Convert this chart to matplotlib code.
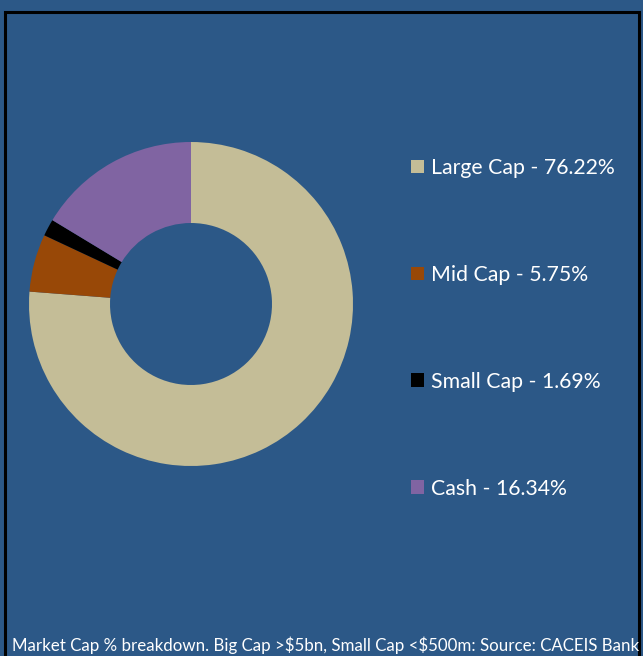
import matplotlib
matplotlib.use('Agg')
import matplotlib.pyplot as plt
from matplotlib.patches import Patch, Rectangle

# data
categories = ['Large Cap', 'Mid Cap', 'Small Cap', 'Cash']
shares = [76.22, 5.75, 1.69, 16.34]
colors = ['#C4BD97', '#984807', '#000000', '#8064A2']
footnote = r'Market Cap % breakdown. Big Cap >\$5bn, Small Cap <\$500m: Source: CACEIS Bank'

bg = '#2C5887'
plt.rcParams['font.family'] = ['Lato', 'DejaVu Sans']

fig = plt.figure(figsize=(6.43, 6.56), dpi=100)
fig.patch.set_facecolor(bg)

# black frame around the chart area
W, H = 643, 656
fig.patches.append(Rectangle((4.5 / W, -0.01), 634 / W, (H - 12.5) / H + 0.01,
                             transform=fig.transFigure, fill=False,
                             edgecolor='black', linewidth=2.2))

ax = fig.add_axes([29 / W, (H - 466) / H, 324 / W, 324 / H])
ax.set_facecolor(bg)
ax.pie(shares, colors=colors, startangle=90, counterclock=False, radius=1,
       wedgeprops=dict(width=0.5, linewidth=0))
ax.set_xlim(-1, 1)
ax.set_ylim(-1, 1)
ax.axis('off')

# legend
handles = [Patch(facecolor=c, edgecolor='none') for c in colors]
labels = ['%s - %.2f%%' % (c, s) for c, s in zip(categories, shares)]
fig.legend(handles, labels, loc='upper left', bbox_to_anchor=(411 / W, 1 - 158 / H),
           frameon=False, fontsize=15.3, labelcolor='white',
           handlelength=0.62, handleheight=0.62, handletextpad=0.3,
           labelspacing=4.09, borderaxespad=0, borderpad=0)

fig.text(12 / W, 1 - 651 / H, footnote, color='white', fontsize=12.2,
         ha='left', va='baseline')

fig.savefig('out.png', dpi=100, facecolor=bg)
